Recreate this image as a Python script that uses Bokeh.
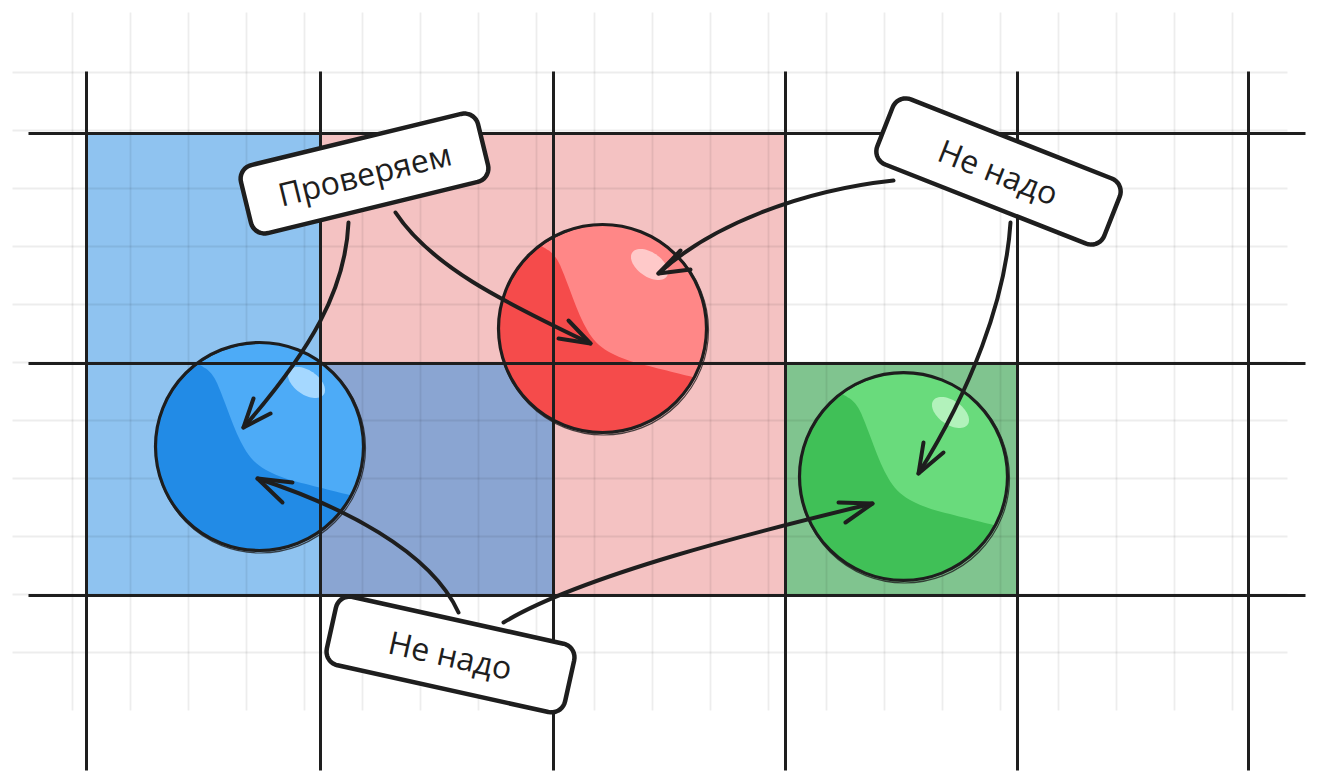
import numpy as np
from bokeh.plotting import figure
from bokeh.models import Range1d
from bokeh.core.properties import value
from bokeh.embed import file_html
from bokeh.resources import INLINE

# --- grid (screen pixels, big cell = 232 px, small step = 58 px) ---
major_x = [86, 320, 553, 785, 1017, 1248]
major_y = [133, 363, 595]
minor_x = [72, 130, 188, 246, 304, 362, 420, 478, 536, 594, 652, 710,
           768, 826, 884, 942, 1000, 1058, 1116, 1174, 1232]
minor_y = [72, 130, 188, 246, 304, 362, 420, 478, 536, 594, 652]

# --- coloured cells ---
cell_left = [86, 320, 320, 785]
cell_right = [320, 785, 553, 1017]
cell_top = [133, 133, 363, 363]
cell_bottom = [595, 595, 595, 595]
cell_color = ["#8fc3f0", "#f4c2c2", "#8aa5d2", "#80c48f"]
cell_edge = ["#2a6fb0", "#b04545", "#3f6fb0", "#2b6e3a"]

# --- balls ---
ball_x = [259, 602, 903]
ball_y = [446, 328, 476]
ball_r = 104
ball_light = ["#4dabf7", "#ff8787", "#69db7c"]
ball_dark = ["#228be6", "#f54b4b", "#40c057"]
ball_shine = ["#a5d8ff", "#ffc9c9", "#b2f2bb"]

# --- arrows: start, control 1, control 2, tip, head wings ---
arr_x0 = [348, 395, 893, 1010, 458, 503]
arr_y0 = [222, 212, 180, 222, 612, 622]
arr_cx0 = [345, 430, 800, 1005, 430, 580]
arr_cy0 = [290, 265, 190, 300, 550, 575]
arr_cx1 = [310, 500, 710, 970, 340, 760]
arr_cy1 = [350, 300, 225, 390, 505, 530]
arr_x1 = [243, 590, 658, 918, 257, 872]
arr_y1 = [427, 343, 273, 473, 478, 503]
wing_ax = [253, 568, 680, 923, 292, 838]
wing_ay = [398, 320, 250, 442, 482, 502]
wing_bx = [270, 558, 690, 943, 282, 845]
wing_by = [413, 338, 269, 452, 502, 522]

# --- callouts ---
label_text = ["Проверяем", "Не надо", "Не надо"]
label_x = [364, 998, 450]
label_y = [173, 171, 654]
label_deg = [13.7, -21.5, -12.5]
box_len = 244
box_h = 70

p = figure(width=1310, height=774, x_range=Range1d(0, 1310), y_range=Range1d(774, 0),
           output_backend="svg", toolbar_location=None, min_border=0,
           x_axis_location=None, y_axis_location=None)
p.grid.visible = False
p.outline_line_color = None
p.background_fill_color = "white"
p.border_fill_color = "white"

# fills
p.quad(left=cell_left, right=cell_right, top=cell_top, bottom=cell_bottom,
       fill_color=cell_color, line_color=cell_edge, line_width=2, line_alpha=0.7)

# light sketch grid
p.segment(x0=minor_x, y0=[12] * len(minor_x), x1=minor_x, y1=[710] * len(minor_x),
          line_color="black", line_alpha=0.07, line_width=1.8)
p.segment(x0=[12] * len(minor_y), y0=minor_y, x1=[1287] * len(minor_y), y1=minor_y,
          line_color="black", line_alpha=0.07, line_width=1.8)


def smooth(pts, n=3):
    pts = np.asarray(pts, dtype=float)
    for _ in range(n):
        q = 0.75 * pts[:-1] + 0.25 * pts[1:]
        r = 0.25 * pts[:-1] + 0.75 * pts[1:]
        mid = np.empty((2 * len(q), 2))
        mid[0::2] = q
        mid[1::2] = r
        pts = np.vstack([pts[:1], mid, pts[-1:]])
    return pts


shade_curve = [(-0.60, -0.80), (-0.45, -0.71), (-0.35, -0.47), (-0.21, -0.09),
               (-0.06, 0.16), (0.20, 0.30), (0.56, 0.39), (0.88, 0.47)]

sx, sy, hx, hy = [], [], [], []
for cx, cy in zip(ball_x, ball_y):
    c = smooth(shade_curve)
    a = np.radians(np.linspace(28, 233, 80))
    xs = np.concatenate([c[:, 0], np.cos(a)]) * ball_r + cx
    ys = np.concatenate([c[:, 1], np.sin(a)]) * ball_r + cy
    sx.append(xs.tolist())
    sy.append(ys.tolist())
    t = np.linspace(0, 2 * np.pi, 60)
    u = np.array([np.cos(np.radians(35)), np.sin(np.radians(35))])
    v = np.array([-u[1], u[0]])
    ex = cx + 47 + 21 * np.cos(t) * u[0] + 12 * np.sin(t) * v[0]
    ey = cy - 64 + 21 * np.cos(t) * u[1] + 12 * np.sin(t) * v[1]
    hx.append(ex.tolist())
    hy.append(ey.tolist())

p.circle(x=ball_x, y=ball_y, radius=ball_r, fill_color=ball_light, line_color=None)
p.patches(xs=sx, ys=sy, fill_color=ball_dark, line_color=None)
p.patches(xs=hx, ys=hy, fill_color=ball_shine, line_color=None)
p.circle(x=ball_x, y=ball_y, radius=ball_r, fill_color=None,
         line_color="#1e1e1e", line_width=3.2)
p.circle(x=[x + 1 for x in ball_x], y=[y + 1.5 for y in ball_y], radius=ball_r + 1,
         fill_color=None, line_color="#1e1e1e", line_width=1.2, line_alpha=0.8)

# heavy grid lines
p.segment(x0=major_x, y0=[71] * len(major_x), x1=major_x, y1=[770] * len(major_x),
          line_color="#1e1e1e", line_width=3)
p.segment(x0=[28] * len(major_y), y0=major_y, x1=[1305] * len(major_y), y1=major_y,
          line_color="#1e1e1e", line_width=3)

# arrows
p.bezier(x0=arr_x0, y0=arr_y0, x1=arr_x1, y1=arr_y1, cx0=arr_cx0, cy0=arr_cy0,
         cx1=arr_cx1, cy1=arr_cy1, line_color="#1e1e1e", line_width=4, line_cap="round")
p.multi_line(xs=[[a, t, b] for a, t, b in zip(wing_ax, arr_x1, wing_bx)],
             ys=[[a, t, b] for a, t, b in zip(wing_ay, arr_y1, wing_by)],
             line_color="#1e1e1e", line_width=4, line_cap="round", line_join="round")

# callout boxes
bx_all, by_all = [], []
for cx, cy, deg in zip(label_x, label_y, label_deg):
    th = np.radians(deg)
    u = np.array([np.cos(th), -np.sin(th)])
    v = np.array([np.sin(th), np.cos(th)])
    rad = 14
    hw, hh = box_len / 2 - rad, box_h / 2 - rad
    pts = []
    for (ox, oy, a0) in [(hw, -hh, -90), (hw, hh, 0), (-hw, hh, 90), (-hw, -hh, 180)]:
        for a in np.radians(np.linspace(a0, a0 + 90, 10)):
            pts.append((ox + rad * np.cos(a), oy + rad * np.sin(a)))
    pts = np.array(pts)
    xs = cx + pts[:, 0] * u[0] + pts[:, 1] * v[0]
    ys = cy + pts[:, 0] * u[1] + pts[:, 1] * v[1]
    bx_all.append(xs.tolist())
    by_all.append(ys.tolist())

p.patches(xs=bx_all, ys=by_all, fill_color="white", line_color="#1e1e1e", line_width=4.5)
p.text(x=label_x, y=label_y, text=label_text, angle=[np.radians(d) for d in label_deg],
       text_align="center", text_baseline="middle", text_color="#1e1e1e",
       text_font=value("Open Sans"), text_font_size="32px")

open("out.html", "w").write(file_html(p, INLINE))
